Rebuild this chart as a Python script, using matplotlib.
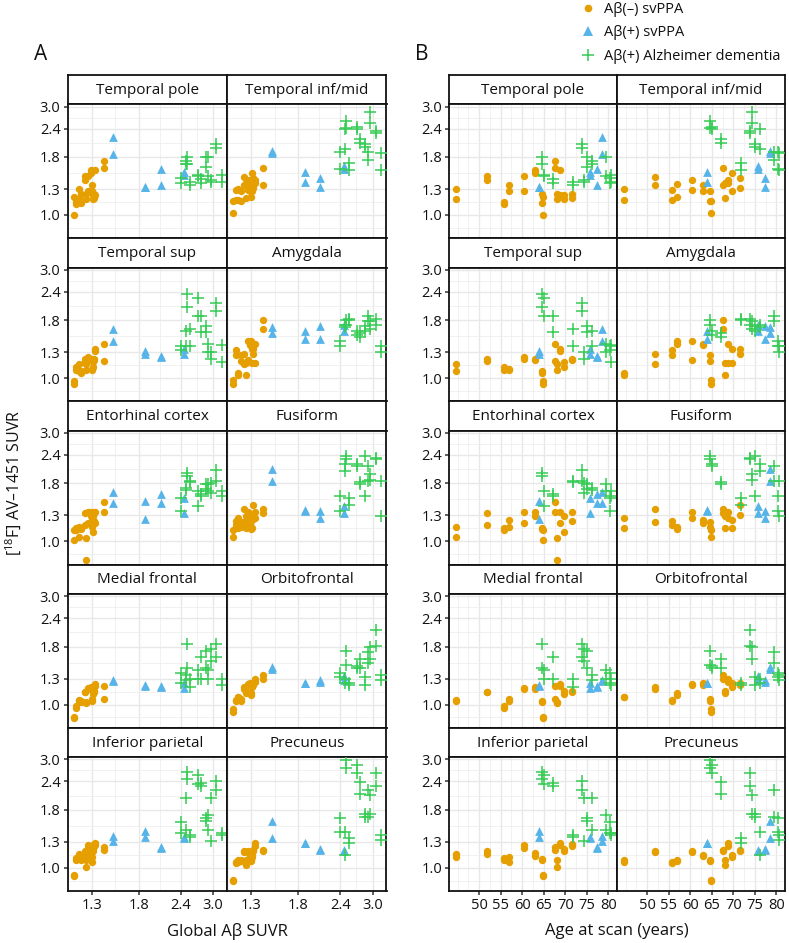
#!/usr/bin/env python3
"""Regional tau SUVR vs global amyloid SUVR (A) and vs age (B), by diagnostic group."""

import matplotlib

matplotlib.use("Agg")
import matplotlib.pyplot as plt
import numpy as np
from matplotlib.lines import Line2D
from matplotlib.ticker import FixedLocator, FixedFormatter, NullFormatter

plt.rcParams["font.family"] = ["Open Sans", "DejaVu Sans"]
plt.rcParams["mathtext.default"] = "regular"

REGIONS = [
    "Temporal pole", "Temporal inf/mid", "Temporal sup", "Amygdala",
    "Entorhinal cortex", "Fusiform", "Medial frontal", "Orbitofrontal",
    "Inferior parietal", "Precuneus",
]

GROUP_LABELS = ["A\u03b2(\u2013) svPPA", "A\u03b2(+) svPPA", "A\u03b2(+) Alzheimer dementia"]

# --- Aβ(-) svPPA: one entry per subject, (left, right) hemisphere per region ---
NEG_AGE = [44.6, 51.9, 55.7, 57.0, 60.3, 62.9, 64.5, 64.9, 67.6, 68.0, 68.7, 69.7, 71.6]
NEG_AMY = [1.19, 1.24, 1.17, 1.30, 1.27, 1.29, 1.21, 1.15, 1.41, 1.25, 1.33, 1.31, 1.32]
NEG_SUVR = [
    [(1.30, 1.17), (1.48, 1.42), (1.14, 1.12), (1.35, 1.28), (1.48, 1.27), (1.58, 1.53), (1.24, 1.13),
     (1.20, 1.00), (1.72, 1.61), (1.24, 1.18), (1.57, 1.22), (1.22, 1.17), (1.24, 1.19)],  # temporal pole
    [(1.30, 1.16), (1.47, 1.35), (1.29, 1.16), (1.37, 1.20), (1.43, 1.29), (1.35, 1.27), (1.28, 1.15),
     (1.15, 1.02), (1.61, 1.35), (1.38, 1.19), (1.42, 1.38), (1.53, 1.27), (1.45, 1.31)],  # temporal inf/mid
    [(1.15, 1.07), (1.22, 1.19), (1.12, 1.09), (1.10, 1.09), (1.24, 1.22), (1.21, 1.20), (1.08, 1.05),
     (0.97, 0.94), (1.42, 1.19), (1.15, 1.09), (1.35, 1.32), (1.18, 1.12), (1.21, 1.20)],  # temporal sup
    [(1.05, 1.03), (1.28, 1.15), (1.33, 1.26), (1.45, 1.42), (1.46, 1.20), (1.41, 1.40), (1.26, 1.19),
     (0.98, 0.94), (1.80, 1.64), (1.17, 1.03), (1.41, 1.17), (1.35, 1.17), (1.35, 1.28)],  # amygdala
    [(1.16, 1.05), (1.33, 1.18), (1.14, 1.12), (1.24, 1.16), (1.35, 1.20), (1.35, 1.29), (1.15, 1.13),
     (1.12, 1.01), (1.49, 1.35), (1.03, 0.83), (1.35, 1.20), (1.29, 1.10), (1.35, 1.23)],  # entorhinal
    [(1.27, 1.15), (1.39, 1.22), (1.23, 1.18), (1.16, 1.13), (1.35, 1.27), (1.24, 1.21), (1.22, 1.16),
     (1.12, 1.04), (1.39, 1.33), (1.29, 1.14), (1.35, 1.27), (1.24, 1.14), (1.45, 1.30)],  # fusiform
    [(1.05, 1.04), (1.14, 1.13), (0.99, 0.97), (1.06, 1.04), (1.18, 1.17), (1.19, 1.17), (1.04, 1.03),
     (0.88, 0.87), (1.21, 1.06), (1.03, 1.02), (1.23, 1.21), (1.15, 1.11), (1.15, 1.14)],  # medial frontal
    [(1.08, 1.08), (1.19, 1.17), (1.05, 1.04), (1.12, 1.10), (1.23, 1.22), (1.25, 1.22), (1.06, 1.04),
     (0.96, 0.93), (1.35, 1.30), (1.15, 1.12), (1.29, 1.26), (1.25, 1.20), (1.24, 1.22)],  # orbitofrontal
    [(1.15, 1.11), (1.18, 1.15), (1.10, 1.08), (1.11, 1.06), (1.26, 1.22), (1.16, 1.13), (1.09, 1.08),
     (0.93, 0.92), (1.23, 1.20), (1.08, 1.01), (1.29, 1.26), (1.21, 1.18), (1.27, 1.25)],  # inferior parietal
    [(1.08, 1.06), (1.18, 1.17), (1.06, 1.05), (1.08, 1.07), (1.18, 1.17), (1.14, 1.13), (1.08, 1.07),
     (0.88, 0.87), (1.20, 1.18), (1.08, 1.03), (1.28, 1.25), (1.14, 1.12), (1.20, 1.18)],  # precuneus
]

# --- Aβ(+) svPPA ---
POS_AGE = [78.5, 63.8, 77.3, 75.8]
POS_AMY = [1.50, 1.88, 2.09, 2.46]
POS_SUVR = [
    [(2.20, 1.85), (1.33, 1.33), (1.60, 1.35), (1.55, 1.50)],
    [(1.92, 1.88), (1.55, 1.40), (1.45, 1.33), (1.65, 1.60)],
    [(1.65, 1.45), (1.32, 1.28), (1.25, 1.24), (1.35, 1.28)],
    [(1.68, 1.58), (1.62, 1.48), (1.70, 1.48), (1.72, 1.62)],
    [(1.65, 1.48), (1.51, 1.26), (1.61, 1.48), (1.55, 1.33)],
    [(2.09, 1.84), (1.38, 1.36), (1.36, 1.27), (1.43, 1.33)],
    [(1.28, 1.27), (1.22, 1.21), (1.21, 1.20), (1.24, 1.18)],
    [(1.47, 1.44), (1.25, 1.24), (1.28, 1.26), (1.33, 1.28)],
    [(1.38, 1.31), (1.45, 1.36), (1.23, 1.22), (1.36, 1.35)],
    [(1.60, 1.35), (1.29, 1.28), (1.21, 1.20), (1.20, 1.18)],
]

# --- Aβ(+) Alzheimer dementia ---
AD_AGE = [64.6, 65.0, 67.2, 71.8, 73.9, 74.3, 75.0, 76.3, 79.4, 80.3, 80.7]
AD_AMY = [2.50, 2.70, 2.75, 2.55, 3.06, 2.95, 2.85, 2.48, 2.90, 2.40, 3.18]
AD_SUVR = [
    [(1.80, 1.68), (1.50, 1.48), (1.44, 1.38), (1.40, 1.36), (2.05, 1.97), (1.42, 1.40),
     (1.80, 1.62), (1.72, 1.68), (1.80, 1.48), (1.45, 1.38), (1.50, 1.40)],
    [(2.60, 2.42), (2.45, 2.38), (2.15, 2.08), (1.70, 1.58), (2.35, 2.30), (2.85, 2.55),
     (2.05, 2.00), (2.40, 1.95), (1.90, 1.75), (1.90, 1.60), (1.88, 1.58)],
    [(2.35, 2.05), (2.25, 1.88), (1.88, 1.60), (1.65, 1.38), (2.15, 1.98), (1.30, 1.22),
     (1.70, 1.60), (1.62, 1.38), (1.42, 1.30), (1.38, 1.33), (1.40, 1.18)],
    [(1.80, 1.72), (1.62, 1.55), (1.58, 1.52), (1.82, 1.80), (1.82, 1.72), (1.78, 1.65),
     (1.70, 1.62), (1.72, 1.68), (1.88, 1.78), (1.45, 1.38), (1.38, 1.30)],
    [(2.00, 1.94), (1.67, 1.43), (1.61, 1.58), (1.84, 1.82), (2.07, 1.84), (1.80, 1.63),
     (1.78, 1.70), (1.72, 1.68), (1.78, 1.66), (1.55, 1.36), (1.66, 1.58)],
    [(2.38, 2.30), (2.20, 2.15), (1.82, 1.78), (1.55, 1.45), (2.32, 2.30), (1.97, 1.87),
     (2.38, 1.58), (2.18, 2.04), (2.15, 1.84), (1.58, 1.36), (1.84, 1.29)],
    [(1.85, 1.45), (1.42, 1.30), (1.62, 1.30), (1.30, 1.20), (1.85, 1.62), (1.75, 1.55),
     (1.72, 1.45), (1.35, 1.28), (1.42, 1.30), (1.38, 1.25), (1.30, 1.22)],
    [(1.72, 1.50), (1.48, 1.45), (1.59, 1.45), (1.25, 1.22), (2.12, 1.81), (1.79, 1.59),
     (1.32, 1.22), (1.30, 1.25), (1.71, 1.53), (1.38, 1.32), (1.35, 1.28)],
    [(2.65, 2.47), (2.56, 2.33), (2.35, 2.30), (1.40, 1.37), (2.41, 2.20), (2.02, 1.31),
     (1.65, 1.61), (2.02, 1.47), (1.70, 1.47), (1.59, 1.42), (1.42, 1.39)],
    [(2.98, 2.74), (2.83, 2.60), (2.38, 2.12), (1.35, 1.28), (2.60, 2.30), (2.09, 1.73),
     (1.73, 1.68), (1.44, 1.14), (2.20, 1.68), (1.65, 1.44), (1.39, 1.33)],
]

Y_TICKS = [1.0, 1.3, 1.8, 2.4, 3.0]
AMY_TICKS = [1.3, 1.8, 2.4, 3.0]
AGE_TICKS = [50, 55, 60, 65, 70, 75, 80]

COLORS = ["#E69F00", "#56B4E9", "#36CC55"]

# layout in pixels
W, H = 789, 943
ROW_TOP = 75.0
ROW_PITCH = 163.2
STRIP_H = 29.3
PANEL_H = ROW_PITCH - STRIP_H
INK = "#111111"


def _log_minor(majors):
    lm = np.log(majors)
    bd = lm[1] - lm[0]
    ext = np.concatenate([[lm[0] - bd], lm, [lm[-1] + bd]])
    return list(np.exp((ext[:-1] + ext[1:]) / 2))


def _axes_px(fig, x0, y0, w, h):
    return fig.add_axes([x0 / W, 1 - (y0 + h) / H, w / W, h / H])


def _pairs(xs, pairs):
    x = np.repeat(np.asarray(xs, dtype=float), 2)
    y = np.asarray(pairs, dtype=float).ravel()
    return x, y


def draw_block(fig, left, width, xvals, xscale, xlim, xticks, xminor, xtitle, letter):
    for i, region in enumerate(REGIONS):
        row, col = divmod(i, 2)
        x0 = left + col * width
        top = ROW_TOP + row * ROW_PITCH

        sax = _axes_px(fig, x0, top, width, STRIP_H)
        sax.set_xticks([])
        sax.set_yticks([])
        for sp in sax.spines.values():
            sp.set_linewidth(1.3)
            sp.set_color(INK)
        sax.text(0.5, 0.48, region, ha="center", va="center", fontsize=11, color=INK,
                 transform=sax.transAxes)

        ax = _axes_px(fig, x0, top + STRIP_H, width, PANEL_H)
        ax.set_yscale("log")
        if xscale == "log":
            ax.set_xscale("log")
        ax.set_xlim(*xlim)
        ax.set_ylim(0.79, 3.07)

        ax.yaxis.set_major_locator(FixedLocator(Y_TICKS))
        ax.yaxis.set_major_formatter(FixedFormatter([f"{v:.1f}" for v in Y_TICKS]))
        ax.yaxis.set_minor_locator(FixedLocator(_log_minor(Y_TICKS)))
        ax.yaxis.set_minor_formatter(NullFormatter())
        ax.xaxis.set_major_locator(FixedLocator(xticks))
        ax.xaxis.set_major_formatter(FixedFormatter([str(v) for v in xticks]))
        ax.xaxis.set_minor_locator(FixedLocator(xminor))
        ax.xaxis.set_minor_formatter(NullFormatter())

        ax.grid(which="major", color="#E8E8E8", linewidth=1.0)
        ax.grid(which="minor", color="#EEEEEE", linewidth=0.55)
        ax.set_axisbelow(True)
        ax.tick_params(which="minor", length=0)
        ax.tick_params(which="major", direction="out", length=3, width=1.1, color="#333333",
                       labelsize=10.5, labelcolor=INK, pad=2)
        if col == 1:
            ax.tick_params(left=False, labelleft=False)
        if row < 4:
            ax.tick_params(bottom=False, labelbottom=False)
        for sp in ax.spines.values():
            sp.set_linewidth(1.3)
            sp.set_color(INK)

        x, y = _pairs(xvals[0], NEG_SUVR[i])
        ax.scatter(x, y, s=28, marker="o", color=COLORS[0], linewidths=0, zorder=3)
        x, y = _pairs(xvals[1], POS_SUVR[i])
        ax.scatter(x, y, s=40, marker="^", color=COLORS[1], linewidths=0, zorder=3)
        x, y = _pairs(xvals[2], AD_SUVR[i])
        ax.scatter(x, y, s=72, marker="+", color=COLORS[2], linewidths=1.1, zorder=4)

    mid = left + width
    fig.text(mid / W, 1 - 931 / H, xtitle, ha="center", va="center", fontsize=12, color=INK)
    fig.text((left - 27) / W, 1 - 55 / H, letter, ha="center", va="center", fontsize=15,
             color=INK)


def main():
    fig = plt.figure(figsize=(W / 100, H / 100), dpi=100)

    draw_block(fig, 67.5, 159.5, (NEG_AMY, POS_AMY, AD_AMY), "log", (1.10, 3.30), AMY_TICKS,
               _log_minor(AMY_TICKS), "Global A\u03b2 SUVR", "A")
    draw_block(fig, 449.0, 168.0, (NEG_AGE, POS_AGE, AD_AGE), "linear", (43.0, 82.0), AGE_TICKS,
               list(np.arange(45, 83, 2.5)), "Age at scan (years)", "B")

    fig.text(14 / W, 1 - 483 / H, "[$^{18}$F] AV\u20131451 SUVR", rotation=90, ha="center",
             va="center", fontsize=11.5, color=INK)

    handles = [
        Line2D([], [], linestyle="none", marker="o", markersize=5.5, color=COLORS[0],
               markeredgewidth=0),
        Line2D([], [], linestyle="none", marker="^", markersize=6.5, color=COLORS[1],
               markeredgewidth=0),
        Line2D([], [], linestyle="none", marker="+", markersize=8.5, color=COLORS[2],
               markeredgewidth=1.1),
    ]
    fig.legend(handles, GROUP_LABELS, loc="upper left", bbox_to_anchor=(575 / W, 1 + 4 / H),
               frameon=False, fontsize=10.5, handlelength=1.0, handletextpad=0.6,
               labelspacing=0.58, borderaxespad=0, labelcolor=INK)

    fig.savefig("out.png", dpi=100)
    plt.close(fig)


if __name__ == "__main__":
    main()
